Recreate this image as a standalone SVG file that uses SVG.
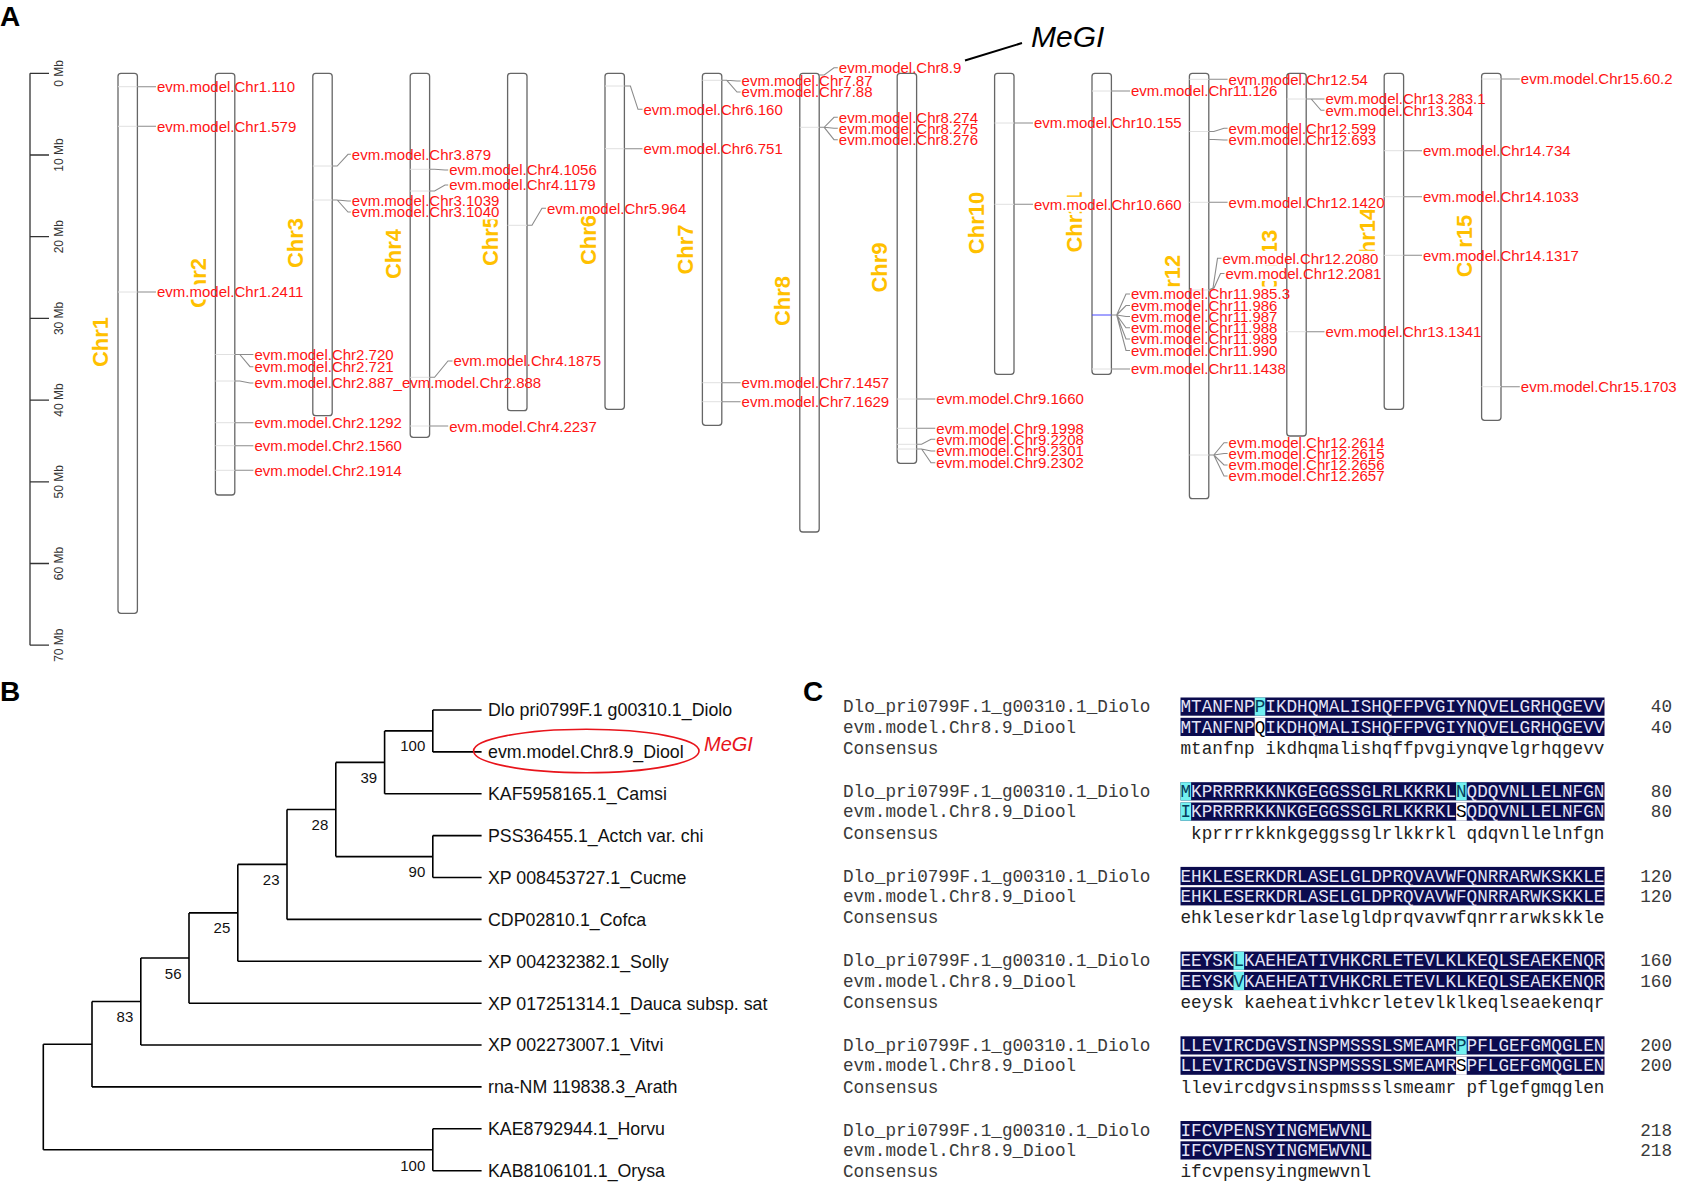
<svg xmlns="http://www.w3.org/2000/svg" width="1681" height="1182" viewBox="0 0 1681 1182">
<style>
.pl{font-family:"Liberation Sans",Arial,sans-serif;font-size:28px;font-weight:bold;fill:#000}
.chr{fill:none;stroke:#666;stroke-width:1.3}
.gl{stroke:#e0e0e0;stroke-width:1}
.cn{fill:none;stroke:#8c8c8c;stroke-width:1.1}
.lb{font-family:"Liberation Sans",Arial,sans-serif;font-size:15px;fill:#ff1414}
.bx{fill:#fff}
.cl{font-family:"Liberation Sans",Arial,sans-serif;font-size:22px;font-weight:bold;fill:#ffc000;text-anchor:middle}
.sc{font-family:"Liberation Sans",Arial,sans-serif;font-size:12px;fill:#333;text-anchor:middle}
.ax{stroke:#333;stroke-width:1.3;fill:none}
.br{stroke:#000;stroke-width:1.6;fill:none}
.tx{font-family:"Liberation Sans",Arial,sans-serif;font-size:17.8px;fill:#111}
.bs{font-family:"Liberation Sans",Arial,sans-serif;font-size:15px;fill:#111;text-anchor:end}
.nm{font-family:"Liberation Mono","Courier New",monospace;font-size:17.66px;fill:#3a3a3a}
.sq{font-family:"Liberation Mono","Courier New",monospace;font-size:17.66px;fill:#e4e4f6}
.cs{font-family:"Liberation Mono","Courier New",monospace;font-size:17.66px;fill:#222}
.num{font-family:"Liberation Mono","Courier New",monospace;font-size:17.66px;fill:#3a3a3a;text-anchor:end}
.nv{fill:#0b0b4e}
.cy{fill:#72f0f0}
.wh{fill:#fff}
</style>
<rect width="1681" height="1182" fill="#fff"/>

<!-- Panel labels -->
<text class="pl" x="0" y="25.5">A</text>
<text class="pl" x="0" y="700.5">B</text>
<text class="pl" x="803" y="700.5">C</text>

<!-- Scale bar -->
<g id="scale">
<path class="ax" d="M30 73.3V645.2M30 73.3H49M30 155H49M30 236.7H49M30 318.4H49M30 400.1H49M30 481.8H49M30 563.5H49M30 645.2H49"/>
<text class="sc" transform="translate(59,73.3) rotate(-90)" y="4.3">0 Mb</text>
<text class="sc" transform="translate(59,155) rotate(-90)" y="4.3">10 Mb</text>
<text class="sc" transform="translate(59,236.7) rotate(-90)" y="4.3">20 Mb</text>
<text class="sc" transform="translate(59,318.4) rotate(-90)" y="4.3">30 Mb</text>
<text class="sc" transform="translate(59,400.1) rotate(-90)" y="4.3">40 Mb</text>
<text class="sc" transform="translate(59,481.8) rotate(-90)" y="4.3">50 Mb</text>
<text class="sc" transform="translate(59,563.5) rotate(-90)" y="4.3">60 Mb</text>
<text class="sc" transform="translate(59,645.2) rotate(-90)" y="4.3">70 Mb</text>
</g>

<!-- Chromosome names -->
<g id="chr-names">
<text class="cl" transform="translate(100,342) rotate(-90)" y="7.9">Chr1</text>
<text class="cl" transform="translate(198,283) rotate(-90)" y="7.9">Chr2</text>
<text class="cl" transform="translate(295.5,243) rotate(-90)" y="7.9">Chr3</text>
<text class="cl" transform="translate(393,254) rotate(-90)" y="7.9">Chr4</text>
<text class="cl" transform="translate(490,241) rotate(-90)" y="7.9">Chr5</text>
<text class="cl" transform="translate(588,240) rotate(-90)" y="7.9">Chr6</text>
<text class="cl" transform="translate(684.8,249.5) rotate(-90)" y="7.9">Chr7</text>
<text class="cl" transform="translate(782.5,301) rotate(-90)" y="7.9">Chr8</text>
<text class="cl" transform="translate(879.5,267.5) rotate(-90)" y="7.9">Chr9</text>
<text class="cl" transform="translate(976.5,223) rotate(-90)" y="7.9">Chr10</text>
<text class="cl" transform="translate(1074.5,222) rotate(-90)" y="7.9">Chr11</text>
<text class="cl" transform="translate(1172,286) rotate(-90)" y="7.9">Chr12</text>
<text class="cl" transform="translate(1269.5,261) rotate(-90)" y="7.9">Chr13</text>
<text class="cl" transform="translate(1367,239) rotate(-90)" y="7.9">Chr14</text>
<text class="cl" transform="translate(1464.5,246) rotate(-90)" y="7.9">Chr15</text>
</g>

<!-- White label backgrounds -->
<g id="label-bg" class="bx">
<rect x="157" y="79.2" width="139.2" height="15"/>
<rect x="157" y="118.8" width="139.2" height="15"/>
<rect x="157" y="284.5" width="147.6" height="15"/>
<rect x="254.4" y="347.5" width="139.2" height="15"/>
<rect x="254.4" y="359.2" width="139.2" height="15"/>
<rect x="254.4" y="375.5" width="286.8" height="15"/>
<rect x="254.4" y="415.2" width="147.6" height="15"/>
<rect x="254.4" y="438.2" width="147.6" height="15"/>
<rect x="254.4" y="462.8" width="147.6" height="15"/>
<rect x="351.8" y="146.8" width="139.2" height="15"/>
<rect x="351.8" y="193.5" width="147.6" height="15"/>
<rect x="351.8" y="204.5" width="147.6" height="15"/>
<rect x="449.2" y="162.5" width="147.6" height="15"/>
<rect x="449.2" y="177.5" width="147.6" height="15"/>
<rect x="453.5" y="353.5" width="147.6" height="15"/>
<rect x="449.2" y="419" width="147.6" height="15"/>
<rect x="547" y="200.8" width="139.2" height="15"/>
<rect x="643.5" y="101.8" width="139.2" height="15"/>
<rect x="643.5" y="141.2" width="139.2" height="15"/>
<rect x="741.6" y="73.5" width="130.9" height="15"/>
<rect x="741.6" y="84.5" width="130.9" height="15"/>
<rect x="741.6" y="375.2" width="147.6" height="15"/>
<rect x="741.6" y="394.2" width="147.6" height="15"/>
<rect x="838.8" y="60.2" width="122.5" height="15"/>
<rect x="838.8" y="109.8" width="139.2" height="15"/>
<rect x="838.8" y="120.8" width="139.2" height="15"/>
<rect x="838.8" y="132.2" width="139.2" height="15"/>
<rect x="936.3" y="391.5" width="147.6" height="15"/>
<rect x="936.3" y="420.8" width="147.6" height="15"/>
<rect x="936.3" y="431.8" width="147.6" height="15"/>
<rect x="936.3" y="443.5" width="147.6" height="15"/>
<rect x="936.3" y="455.2" width="147.6" height="15"/>
<rect x="1034" y="115.5" width="147.6" height="15"/>
<rect x="1034" y="196.8" width="147.6" height="15"/>
<rect x="1131" y="83.5" width="147.6" height="15"/>
<rect x="1131" y="286.5" width="160" height="15"/>
<rect x="1131" y="298" width="147.6" height="15"/>
<rect x="1131" y="309" width="147.6" height="15"/>
<rect x="1131" y="320.2" width="147.6" height="15"/>
<rect x="1131" y="331.5" width="147.6" height="15"/>
<rect x="1131" y="343" width="147.6" height="15"/>
<rect x="1131" y="361.5" width="155.9" height="15"/>
<rect x="1228.6" y="71.8" width="139.2" height="15"/>
<rect x="1228.6" y="120.8" width="147.6" height="15"/>
<rect x="1228.6" y="132.5" width="147.6" height="15"/>
<rect x="1228.6" y="194.8" width="155.9" height="15"/>
<rect x="1222.5" y="250.8" width="155.9" height="15"/>
<rect x="1225.5" y="266" width="155.9" height="15"/>
<rect x="1228.6" y="435.2" width="155.9" height="15"/>
<rect x="1228.6" y="446" width="155.9" height="15"/>
<rect x="1228.6" y="457.5" width="155.9" height="15"/>
<rect x="1228.6" y="468.5" width="155.9" height="15"/>
<rect x="1325.5" y="91.5" width="160" height="15"/>
<rect x="1325.5" y="102.8" width="147.6" height="15"/>
<rect x="1325.5" y="324.2" width="155.9" height="15"/>
<rect x="1423" y="143.2" width="147.6" height="15"/>
<rect x="1423" y="189.2" width="155.9" height="15"/>
<rect x="1423" y="247.8" width="155.9" height="15"/>
<rect x="1520.8" y="71.5" width="151.7" height="15"/>
<rect x="1520.8" y="379.2" width="155.9" height="15"/>
</g>

<!-- Chromosomes -->
<g id="chr1"><rect class="chr" x="118" y="73.3" width="19.4" height="540" rx="3"/><path class="gl" d="M118 86.7H137.4M118 126.3H137.4M118 292H137.4"/></g>
<g id="chr2"><rect class="chr" x="215.4" y="73.3" width="19.4" height="421.7" rx="3"/><path class="gl" d="M215.4 354.5H234.8M215.4 381H234.8M215.4 422.7H234.8M215.4 445.7H234.8M215.4 470.3H234.8"/></g>
<g id="chr3"><rect class="chr" x="312.8" y="73.3" width="19.4" height="342.4" rx="3"/><path class="gl" d="M312.8 166H332.2M312.8 200H332.2"/></g>
<g id="chr4"><rect class="chr" x="410.2" y="73.3" width="19.4" height="364" rx="3"/><path class="gl" d="M410.2 169.3H429.6M410.2 191H429.6M410.2 377.3H429.6M410.2 426H429.6"/></g>
<g id="chr5"><rect class="chr" x="507.6" y="73.3" width="19.4" height="337.4" rx="3"/><path class="gl" d="M507.6 225.3H527"/></g>
<g id="chr6"><rect class="chr" x="605" y="73.3" width="19.4" height="336" rx="3"/><path class="gl" d="M605 86H624.4M605 148.7H624.4"/></g>
<g id="chr7"><rect class="chr" x="702.4" y="73.3" width="19.4" height="352" rx="3"/><path class="gl" d="M702.4 80.3H721.8M702.4 382.7H721.8M702.4 401.7H721.8"/></g>
<g id="chr8"><rect class="chr" x="799.8" y="73.3" width="19.4" height="458.7" rx="3"/><path class="gl" d="M799.8 127.3H819.2"/></g>
<g id="chr9"><rect class="chr" x="897.2" y="73.3" width="19.4" height="390" rx="3"/><path class="gl" d="M897.2 399H916.6M897.2 428.3H916.6M897.2 444.3H916.6M897.2 449H916.6"/></g>
<g id="chr10"><rect class="chr" x="994.6" y="73.3" width="19.4" height="301" rx="3"/><path class="gl" d="M994.6 123H1014M994.6 204.3H1014"/></g>
<g id="chr11"><rect class="chr" x="1092" y="73.3" width="19.4" height="301" rx="3"/><path class="gl" d="M1092 91H1111.4M1092 369H1111.4"/><path d="M1092 315H1111.4" stroke="#4646ff" stroke-width="1"/></g>
<g id="chr12"><rect class="chr" x="1189.4" y="73.3" width="19.4" height="425.4" rx="3"/><path class="gl" d="M1189.4 79.3H1208.8M1189.4 131.5H1208.8M1189.4 202.3H1208.8M1189.4 290H1208.8M1189.4 455H1208.8"/></g>
<g id="chr13"><rect class="chr" x="1286.8" y="73.3" width="19.4" height="362.7" rx="3"/><path class="gl" d="M1286.8 99H1306.2M1286.8 331.7H1306.2"/></g>
<g id="chr14"><rect class="chr" x="1384.2" y="73.3" width="19.4" height="336" rx="3"/><path class="gl" d="M1384.2 150.7H1403.6M1384.2 196.7H1403.6M1384.2 255.3H1403.6"/></g>
<g id="chr15"><rect class="chr" x="1481.6" y="73.3" width="19.4" height="347" rx="3"/><path class="gl" d="M1481.6 79H1501M1481.6 386.7H1501"/></g>

<!-- Connectors -->
<g id="connectors" class="cn">
<path d="M137.4 86.7H156M137.4 126.3H156M137.4 292H156"/>
<path d="M234.8 354.5H253.4M234.8 354.5h5L250 366.7H253.4M234.8 381h5L250 383H253.4M234.8 422.7H253.4M234.8 445.7H253.4M234.8 470.3H253.4"/>
<path d="M332.2 166h5L348 154.3H350.8M332.2 200h5L348 201H350.8M332.2 200h5L348 212H350.8"/>
<path d="M429.6 169.3h5L445 170H448.2M429.6 191h5L445 185H448.2M429.6 377.3h5L448 361H452.5M429.6 426H448.2"/>
<path d="M527 225.3h5L542 208.3H546"/>
<path d="M624.4 86h6L638 109.3H642.5M624.4 148.7H642.5"/>
<path d="M721.8 80.3h5L737 81H740.6M721.8 80.3h5L737 92H740.6M721.8 382.7H740.6M721.8 401.7H740.6"/>
<path d="M819.2 75h5L834 67.7H837.8M819.2 127.3h5L834 117.3H837.8M819.2 127.3h5L834 128.3H837.8M819.2 127.3h5L834 139.7H837.8"/>
<path d="M916.6 399H935.3M916.6 428.3H935.3M916.6 444.3h5L931 439.3H935.3M916.6 449h5L931 451H935.3M916.6 449h5L931 462.7H935.3"/>
<path d="M1014 123H1033M1014 204.3H1033"/>
<path d="M1111.4 91H1130M1111.4 315h5.3L1126 294H1130M1116.7 315L1126 305.5H1130M1116.7 315L1126 316.5H1130M1116.7 315L1126 327.7H1130M1116.7 315L1126 339H1130M1116.7 315L1126 350.5H1130M1111.4 369H1130"/>
<path d="M1208.8 79.3H1227.6M1208.8 131.5h5L1224 128.3H1227.6M1208.8 139.5h5L1224 140H1227.6M1208.8 202.3H1227.6M1208.8 290L1213 288L1217.5 258.3H1221.5M1208.8 290L1214 288L1220.5 273.5H1224.5M1208.8 455h5L1224 442.7H1227.6M1213.8 455L1224 453.5H1227.6M1213.8 455L1224 465H1227.6M1213.8 455L1224 476H1227.6"/>
<path d="M1306.2 99H1324.5M1306.2 99h5L1321 110.3H1324.5M1306.2 331.7H1324.5"/>
<path d="M1403.6 150.7H1422M1403.6 196.7H1422M1403.6 255.3H1422"/>
<path d="M1501 79H1519.8M1501 386.7H1519.8"/>
<path d="M965 60.5L1022 43" stroke="#000" stroke-width="2"/>
</g>

<!-- Gene labels -->
<g id="genes" class="lb">
<text x="157" y="92">evm.model.Chr1.110</text>
<text x="157" y="131.6">evm.model.Chr1.579</text>
<text x="157" y="297.3">evm.model.Chr1.2411</text>
<text x="254.4" y="360.3">evm.model.Chr2.720</text>
<text x="254.4" y="372">evm.model.Chr2.721</text>
<text x="254.4" y="388.3">evm.model.Chr2.887_evm.model.Chr2.888</text>
<text x="254.4" y="428">evm.model.Chr2.1292</text>
<text x="254.4" y="451">evm.model.Chr2.1560</text>
<text x="254.4" y="475.6">evm.model.Chr2.1914</text>
<text x="351.8" y="159.6">evm.model.Chr3.879</text>
<text x="351.8" y="206.3">evm.model.Chr3.1039</text>
<text x="351.8" y="217.3">evm.model.Chr3.1040</text>
<text x="449.2" y="175.3">evm.model.Chr4.1056</text>
<text x="449.2" y="190.3">evm.model.Chr4.1179</text>
<text x="453.5" y="366.3">evm.model.Chr4.1875</text>
<text x="449.2" y="431.8">evm.model.Chr4.2237</text>
<text x="547" y="213.6">evm.model.Chr5.964</text>
<text x="643.5" y="114.6">evm.model.Chr6.160</text>
<text x="643.5" y="154">evm.model.Chr6.751</text>
<text x="741.6" y="86.3">evm.model.Chr7.87</text>
<text x="741.6" y="97.3">evm.model.Chr7.88</text>
<text x="741.6" y="388">evm.model.Chr7.1457</text>
<text x="741.6" y="407">evm.model.Chr7.1629</text>
<text x="838.8" y="73">evm.model.Chr8.9</text>
<text x="838.8" y="122.6">evm.model.Chr8.274</text>
<text x="838.8" y="133.6">evm.model.Chr8.275</text>
<text x="838.8" y="145">evm.model.Chr8.276</text>
<text x="936.3" y="404.3">evm.model.Chr9.1660</text>
<text x="936.3" y="433.6">evm.model.Chr9.1998</text>
<text x="936.3" y="444.6">evm.model.Chr9.2208</text>
<text x="936.3" y="456.3">evm.model.Chr9.2301</text>
<text x="936.3" y="468">evm.model.Chr9.2302</text>
<text x="1034" y="128.3">evm.model.Chr10.155</text>
<text x="1034" y="209.6">evm.model.Chr10.660</text>
<text x="1131" y="96.3">evm.model.Chr11.126</text>
<text x="1131" y="299.3">evm.model.Chr11.985.3</text>
<text x="1131" y="310.8">evm.model.Chr11.986</text>
<text x="1131" y="321.8">evm.model.Chr11.987</text>
<text x="1131" y="333">evm.model.Chr11.988</text>
<text x="1131" y="344.3">evm.model.Chr11.989</text>
<text x="1131" y="355.8">evm.model.Chr11.990</text>
<text x="1131" y="374.3">evm.model.Chr11.1438</text>
<text x="1228.6" y="84.6">evm.model.Chr12.54</text>
<text x="1228.6" y="133.6">evm.model.Chr12.599</text>
<text x="1228.6" y="145.3">evm.model.Chr12.693</text>
<text x="1228.6" y="207.6">evm.model.Chr12.1420</text>
<text x="1222.5" y="263.6">evm.model.Chr12.2080</text>
<text x="1225.5" y="278.8">evm.model.Chr12.2081</text>
<text x="1228.6" y="448">evm.model.Chr12.2614</text>
<text x="1228.6" y="458.8">evm.model.Chr12.2615</text>
<text x="1228.6" y="470.3">evm.model.Chr12.2656</text>
<text x="1228.6" y="481.3">evm.model.Chr12.2657</text>
<text x="1325.5" y="104.3">evm.model.Chr13.283.1</text>
<text x="1325.5" y="115.6">evm.model.Chr13.304</text>
<text x="1325.5" y="337">evm.model.Chr13.1341</text>
<text x="1423" y="156">evm.model.Chr14.734</text>
<text x="1423" y="202">evm.model.Chr14.1033</text>
<text x="1423" y="260.6">evm.model.Chr14.1317</text>
<text x="1520.8" y="84.3">evm.model.Chr15.60.2</text>
<text x="1520.8" y="392">evm.model.Chr15.1703</text>
</g>
<text x="1031" y="47" font-family="Liberation Sans, Arial, sans-serif" font-size="30" font-style="italic" fill="#000">MeGI</text>

<!-- Panel B: tree -->
<g id="tree-branches" class="br">
<path d="M432.8 710H481.6M432.8 751.9H481.6M384.6 793.8H481.6M432.8 835.6H481.6M432.8 877.5H481.6M287 919.4H481.6M237.8 961.3H481.6M189 1003.2H481.6M140.8 1045H481.6M92 1086.9H481.6M432.8 1128.8H481.6M432.8 1170.7H481.6"/>
<path d="M432.8 710V751.9M384.6 730.9V793.8M432.8 835.6V877.5M335.8 762.4V856.6M287 809.5V919.4M237.8 864.4V961.3M189 912.9V1003.2M140.8 958V1045M92 1001.5V1086.9M432.8 1128.8V1170.7M43.3 1044.2V1149.8"/>
<path d="M384.6 730.9H432.8M335.8 762.4H384.6M335.8 856.6H432.8M287 809.5H335.8M237.8 864.4H287M189 912.9H237.8M140.8 958H189M92 1001.5H140.8M43.3 1044.2H92M43.3 1149.8H432.8"/>
</g>
<g id="tree-taxa" class="tx">
<text x="488" y="716.3">Dlo pri0799F.1 g00310.1_Diolo</text>
<text x="488" y="758.2">evm.model.Chr8.9_Diool</text>
<text x="488" y="800.1">KAF5958165.1_Camsi</text>
<text x="488" y="841.9">PSS36455.1_Actch var. chi</text>
<text x="488" y="883.8">XP 008453727.1_Cucme</text>
<text x="488" y="925.7">CDP02810.1_Cofca</text>
<text x="488" y="967.6">XP 004232382.1_Solly</text>
<text x="488" y="1009.5">XP 017251314.1_Dauca subsp. sat</text>
<text x="488" y="1051.3">XP 002273007.1_Vitvi</text>
<text x="488" y="1093.2">rna-NM 119838.3_Arath</text>
<text x="488" y="1135.1">KAE8792944.1_Horvu</text>
<text x="488" y="1177">KAB8106101.1_Orysa</text>
</g>
<g id="bootstrap" class="bs">
<text x="425.3" y="751.3">100</text>
<text x="377.1" y="782.6">39</text>
<text x="328.3" y="829.6">28</text>
<text x="425.3" y="877">90</text>
<text x="279.5" y="884.6">23</text>
<text x="230.3" y="933">25</text>
<text x="181.5" y="978.6">56</text>
<text x="133.3" y="1022">83</text>
<text x="425.3" y="1171">100</text>
</g>
<g id="megi-highlight">
<ellipse cx="586.3" cy="751" rx="112.7" ry="21.7" fill="none" stroke="#e8141b" stroke-width="1.6"/>
<text x="704" y="751" font-family="Liberation Sans, Arial, sans-serif" font-size="20" font-style="italic" fill="#e8141b">MeGI</text>
</g>

<!-- Panel C: alignment -->
<g id="alignment">
<!-- block 1 -->
<g id="block1">
<rect class="nv" x="1180.5" y="697.5" width="424" height="18.2"/>
<rect class="nv" x="1180.5" y="717.8" width="424" height="18.2"/>
<rect class="cy" x="1254.7" y="697.5" width="10.6" height="18.2"/>
<rect class="wh" x="1254.7" y="717.8" width="10.6" height="18.2"/>
<text class="nm" x="843" y="712.3">Dlo_pri0799F.1_g00310.1_Diolo</text>
<text class="nm" x="843" y="732.6">evm.model.Chr8.9_Diool</text>
<text class="nm" x="843" y="753.8">Consensus</text>
<text class="sq" x="1180.5" y="712.3">MTANFNP<tspan fill="#063c5c">P</tspan>IKDHQMALISHQFFPVGIYNQVELGRHQGEVV</text>
<text class="sq" x="1180.5" y="732.6">MTANFNP<tspan fill="#000">Q</tspan>IKDHQMALISHQFFPVGIYNQVELGRHQGEVV</text>
<text class="cs" x="1180.5" y="753.8" xml:space="preserve">mtanfnp ikdhqmalishqffpvgiynqvelgrhqgevv</text>
<text class="num" x="1672" y="712.3">40</text>
<text class="num" x="1672" y="732.6">40</text>
</g>
<g id="block2">
<rect class="nv" x="1180.5" y="782.2" width="424" height="18.2"/>
<rect class="nv" x="1180.5" y="802.5" width="424" height="18.2"/>
<rect class="cy" x="1180.5" y="782.2" width="10.6" height="18.2"/>
<rect class="cy" x="1180.5" y="802.5" width="10.6" height="18.2"/>
<rect class="cy" x="1456.1" y="782.2" width="10.6" height="18.2"/>
<rect class="wh" x="1456.1" y="802.5" width="10.6" height="18.2"/>
<text class="nm" x="843" y="797">Dlo_pri0799F.1_g00310.1_Diolo</text>
<text class="nm" x="843" y="817.3">evm.model.Chr8.9_Diool</text>
<text class="nm" x="843" y="838.5">Consensus</text>
<text class="sq" x="1180.5" y="797"><tspan fill="#063c5c">M</tspan>KPRRRRKKNKGEGGSSGLRLKKRKL<tspan fill="#063c5c">N</tspan>QDQVNLLELNFGN</text>
<text class="sq" x="1180.5" y="817.3"><tspan fill="#063c5c">I</tspan>KPRRRRKKNKGEGGSSGLRLKKRKL<tspan fill="#000">S</tspan>QDQVNLLELNFGN</text>
<text class="cs" x="1180.5" y="838.5" xml:space="preserve"> kprrrrkknkgeggssglrlkkrkl qdqvnllelnfgn</text>
<text class="num" x="1672" y="797">80</text>
<text class="num" x="1672" y="817.3">80</text>
</g>
<g id="block3">
<rect class="nv" x="1180.5" y="866.9" width="424" height="18.2"/>
<rect class="nv" x="1180.5" y="887.2" width="424" height="18.2"/>
<text class="nm" x="843" y="881.7">Dlo_pri0799F.1_g00310.1_Diolo</text>
<text class="nm" x="843" y="902">evm.model.Chr8.9_Diool</text>
<text class="nm" x="843" y="923.2">Consensus</text>
<text class="sq" x="1180.5" y="881.7">EHKLESERKDRLASELGLDPRQVAVWFQNRRARWKSKKLE</text>
<text class="sq" x="1180.5" y="902">EHKLESERKDRLASELGLDPRQVAVWFQNRRARWKSKKLE</text>
<text class="cs" x="1180.5" y="923.2">ehkleserkdrlaselgldprqvavwfqnrrarwkskkle</text>
<text class="num" x="1672" y="881.7">120</text>
<text class="num" x="1672" y="902">120</text>
</g>
<g id="block4">
<rect class="nv" x="1180.5" y="951.6" width="424" height="18.2"/>
<rect class="nv" x="1180.5" y="971.9" width="424" height="18.2"/>
<rect class="cy" x="1233.5" y="951.6" width="10.6" height="18.2"/>
<rect class="cy" x="1233.5" y="971.9" width="10.6" height="18.2"/>
<text class="nm" x="843" y="966.4">Dlo_pri0799F.1_g00310.1_Diolo</text>
<text class="nm" x="843" y="986.7">evm.model.Chr8.9_Diool</text>
<text class="nm" x="843" y="1007.9">Consensus</text>
<text class="sq" x="1180.5" y="966.4">EEYSK<tspan fill="#063c5c">L</tspan>KAEHEATIVHKCRLETEVLKLKEQLSEAEKENQR</text>
<text class="sq" x="1180.5" y="986.7">EEYSK<tspan fill="#063c5c">V</tspan>KAEHEATIVHKCRLETEVLKLKEQLSEAEKENQR</text>
<text class="cs" x="1180.5" y="1007.9" xml:space="preserve">eeysk kaeheativhkcrletevlklkeqlseaekenqr</text>
<text class="num" x="1672" y="966.4">160</text>
<text class="num" x="1672" y="986.7">160</text>
</g>
<g id="block5">
<rect class="nv" x="1180.5" y="1036.3" width="424" height="18.2"/>
<rect class="nv" x="1180.5" y="1056.6" width="424" height="18.2"/>
<rect class="cy" x="1456.1" y="1036.3" width="10.6" height="18.2"/>
<rect class="wh" x="1456.1" y="1056.6" width="10.6" height="18.2"/>
<text class="nm" x="843" y="1051.1">Dlo_pri0799F.1_g00310.1_Diolo</text>
<text class="nm" x="843" y="1071.4">evm.model.Chr8.9_Diool</text>
<text class="nm" x="843" y="1092.6">Consensus</text>
<text class="sq" x="1180.5" y="1051.1">LLEVIRCDGVSINSPMSSSLSMEAMR<tspan fill="#063c5c">P</tspan>PFLGEFGMQGLEN</text>
<text class="sq" x="1180.5" y="1071.4">LLEVIRCDGVSINSPMSSSLSMEAMR<tspan fill="#000">S</tspan>PFLGEFGMQGLEN</text>
<text class="cs" x="1180.5" y="1092.6" xml:space="preserve">llevircdgvsinspmssslsmeamr pflgefgmqglen</text>
<text class="num" x="1672" y="1051.1">200</text>
<text class="num" x="1672" y="1071.4">200</text>
</g>
<g id="block6">
<rect class="nv" x="1180.5" y="1121" width="190.8" height="18.2"/>
<rect class="nv" x="1180.5" y="1141.3" width="190.8" height="18.2"/>
<text class="nm" x="843" y="1135.8">Dlo_pri0799F.1_g00310.1_Diolo</text>
<text class="nm" x="843" y="1156.1">evm.model.Chr8.9_Diool</text>
<text class="nm" x="843" y="1177.3">Consensus</text>
<text class="sq" x="1180.5" y="1135.8">IFCVPENSYINGMEWVNL</text>
<text class="sq" x="1180.5" y="1156.1">IFCVPENSYINGMEWVNL</text>
<text class="cs" x="1180.5" y="1177.3">ifcvpensyingmewvnl</text>
<text class="num" x="1672" y="1135.8">218</text>
<text class="num" x="1672" y="1156.1">218</text>
</g>
</g>
</svg>
